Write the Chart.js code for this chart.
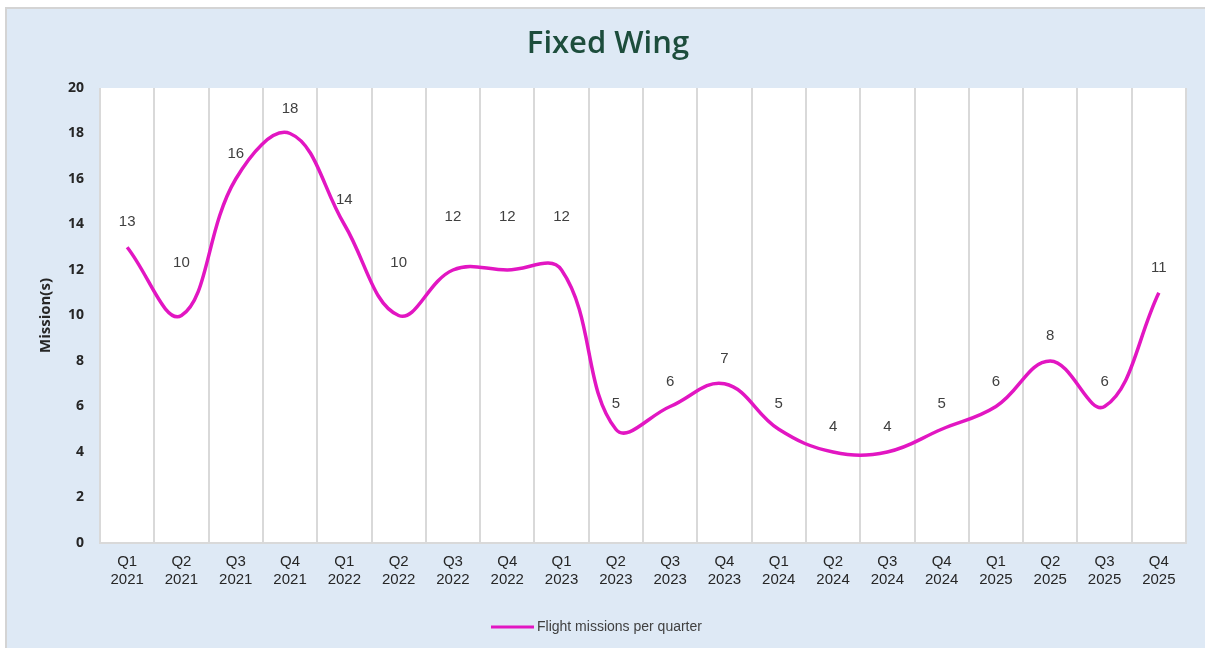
<!DOCTYPE html>
<html>
<head>
<meta charset="utf-8">
<title>Fixed Wing</title>
<script src="https://cdn.jsdelivr.net/npm/chart.js@4/dist/chart.umd.min.js"></script>
<style>
  html, body { margin: 0; padding: 0; background: #fff; }
  #wrap { width: 1205px; height: 648px; position: relative; }
</style>
</head>
<body>
<div id="wrap"><canvas id="fixedWing"></canvas></div>
<script>
// chart values
const quarters = ["Q1","Q2","Q3","Q4","Q1","Q2","Q3","Q4","Q1","Q2","Q3","Q4","Q1","Q2","Q3","Q4","Q1","Q2","Q3","Q4"];
const years = ["2021","2021","2021","2021","2022","2022","2022","2022","2023","2023","2023","2023","2024","2024","2024","2024","2025","2025","2025","2025"];
const missions = [13, 10, 16, 18, 14, 10, 12, 12, 12, 5, 6, 7, 5, 4, 4, 5, 6, 8, 6, 11];
const yTicks = [0, 2, 4, 6, 8, 10, 12, 14, 16, 18, 20];
const seriesName = "Flight missions per quarter";
const chartTitle = "Fixed Wing";

// labels that were lifted higher in the original
const raisedLabels = [1, 5, 6, 7, 8];

const lineColor = "#e216c2";

// blue panel, title and legend
const backdrop = {
  id: "backdrop",
  beforeDraw(chart) {
    const ctx = chart.ctx;
    ctx.save();
    ctx.fillStyle = "#ffffff";
    ctx.fillRect(0, 0, chart.width, chart.height);
    ctx.fillStyle = "#dee9f5";
    ctx.fillRect(7, 9, chart.width - 7, chart.height - 9);
    ctx.strokeStyle = "#d4d4d4";
    ctx.lineWidth = 2;
    ctx.beginPath();
    ctx.moveTo(6, chart.height);
    ctx.lineTo(6, 8);
    ctx.lineTo(chart.width, 8);
    ctx.stroke();
    // white plot area
    const a = chart.chartArea;
    ctx.fillStyle = "#ffffff";
    ctx.fillRect(a.left, a.top, a.right - a.left, a.bottom - a.top);
    ctx.restore();
  },
  afterDraw(chart) {
    const ctx = chart.ctx;
    ctx.save();
    ctx.fillStyle = "#1d4d3c";
    ctx.font = "600 31px 'Open Sans', sans-serif";
    ctx.textAlign = "center";
    ctx.textBaseline = "middle";
    ctx.fillText(chartTitle, 608, 44);

    // legend
    const ds = chart.data.datasets[0];
    ctx.strokeStyle = ds.borderColor;
    ctx.lineWidth = 3;
    ctx.beginPath();
    ctx.moveTo(491, 627);
    ctx.lineTo(534, 627);
    ctx.stroke();
    ctx.fillStyle = "#404040";
    ctx.font = "14px 'Liberation Sans', Arial, sans-serif";
    ctx.textAlign = "left";
    ctx.fillText(ds.label, 537, 627);
    ctx.restore();
  }
};

// value labels above each point
const valueLabels = {
  id: "valueLabels",
  afterDatasetsDraw(chart) {
    const ctx = chart.ctx;
    const meta = chart.getDatasetMeta(0);
    const values = chart.data.datasets[0].data;
    ctx.save();
    ctx.fillStyle = "#404040";
    ctx.font = "15px 'Liberation Sans', Arial, sans-serif";
    ctx.textAlign = "center";
    ctx.textBaseline = "middle";
    meta.data.forEach(function(pt, i) {
      const lift = raisedLabels.includes(i) ? 53 : 25;
      ctx.fillText(String(values[i]), pt.x, pt.y - lift);
    });
    ctx.restore();
  }
};

const ctx = document.getElementById("fixedWing").getContext("2d");
const chart = new Chart(ctx, {
  type: "line",
  data: {
    labels: quarters.map(function(q, i) { return [q, years[i]]; }),
    datasets: [{
      label: seriesName,
      data: missions,
      borderColor: lineColor,
      backgroundColor: lineColor,
      borderWidth: 3.5,
      tension: 0.4,
      pointRadius: 0,
      pointHoverRadius: 0,
      fill: false
    }]
  },
  options: {
    responsive: true,
    maintainAspectRatio: false,
    animation: false,
    layout: { padding: { left: 7, right: 19, top: 88, bottom: 0 } },
    plugins: {
      legend: { display: false },
      title: { display: false },
      tooltip: { enabled: false }
    },
    scales: {
      x: {
        offset: true,
        grid: { offset: true, color: "#d9d9d9", lineWidth: 2, drawTicks: false },
        border: { display: true, color: "#d9d9d9", width: 2 },
        ticks: {
          color: "#262626",
          padding: 9,
          maxRotation: 0,
          autoSkip: false,
          font: { family: "'Liberation Sans', Arial, sans-serif", size: 15, lineHeight: 1.25 }
        },
        afterFit(scale) { scale.height = 105; }
      },
      y: {
        min: 0,
        max: 20,
        afterBuildTicks(scale) { scale.ticks = yTicks.map(function(v) { return { value: v }; }); },
        grid: { display: false, drawTicks: false },
        border: { display: false },
        ticks: {
          color: "#262626",
          padding: 16,
          font: { family: "'Open Sans', sans-serif", size: 14, weight: "bold" }
        },
        title: {
          display: true,
          text: "Mission(s)",
          color: "#262626",
          padding: { top: 30, bottom: 0 },
          font: { family: "'Open Sans', sans-serif", size: 15, weight: "bold" }
        },
        afterFit(scale) { scale.width = 93; }
      }
    }
  },
  plugins: [backdrop, valueLabels]
});
</script>
</body>
</html>
